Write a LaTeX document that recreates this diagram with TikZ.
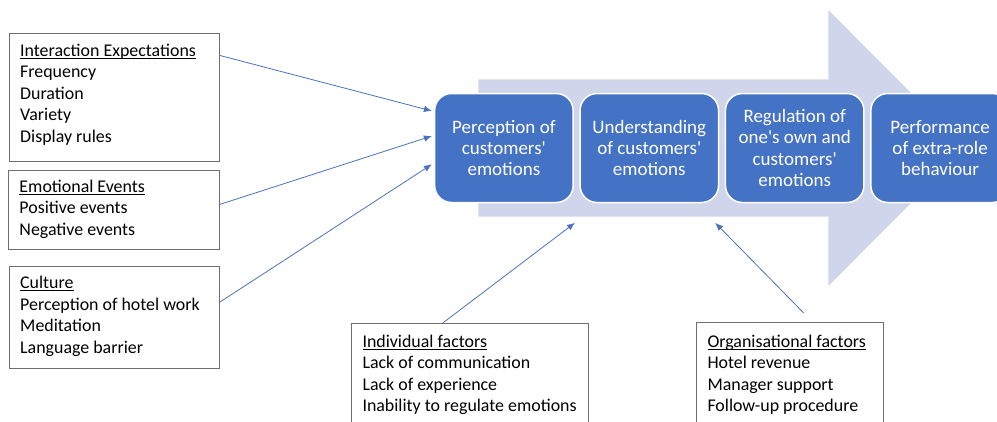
\documentclass[tikz,border=0pt]{standalone}
\usepackage{fontspec}
\setmainfont{Carlito}
\usetikzlibrary{arrows.meta,calc}
\definecolor{boxblue}{HTML}{4472C4}
\definecolor{arrowbg}{HTML}{CFD5EA}
\definecolor{linkblue}{HTML}{4A72C0}
\definecolor{framegray}{HTML}{6E6E6E}
\newcommand\ulx[1]{\setbox0\hbox{#1}\rlap{\rule[-2.4pt]{\wd0}{0.9pt}}\box0}
\newcommand\aq{\textquotesingle}
\begin{document}
\begin{tikzpicture}[x=1pt,y=-1pt,
  stepbox/.style={draw=white, line width=1.5pt, fill=boxblue, rounded corners=17pt,
    minimum width=138.5pt, minimum height=109pt, inner sep=0pt, text=white,
    align=center, font=\fontsize{19}{21.4}\selectfont},
  factorbox/.style={draw=framegray, line width=1pt, inner sep=0pt},
  factortext/.style={anchor=base west, inner sep=0pt,
    font=\fontsize{17.9}{21.5}\selectfont},
  link/.style={draw=linkblue, line width=0.8pt, -{Latex[length=8pt,width=6.5pt]}}]
\useasboundingbox (0,0) rectangle (997,421);
\clip (0,0) rectangle (997,421);
% big background arrow
\fill[arrowbg] (478.3,79.3) -- (828.3,79.3) -- (828.3,10) -- (966,148)
  -- (828.3,286) -- (828.3,216.7) -- (478.3,216.7) -- cycle;
% step boxes
\node[stepbox] (sA) at (503.9,148) {Perception of\\customers\aq\\emotions};
\node[stepbox] (sB) at (649.3,148) {Understanding\\of customers\aq\\emotions};
\node[stepbox] (sC) at (794.7,148) {Regulation of\\one\aq s own and\\customers\aq\\emotions};
\node[stepbox] (sD) at (940.1,148) {Performance\\of extra-role\\behaviour};
% factor boxes
\node[factorbox, minimum width=210pt, minimum height=128pt] (b1) at (114.5,97.5) {};
\node[factorbox, minimum width=210.5pt, minimum height=79pt] (b2) at (113.75,209.5) {};
\node[factorbox, minimum width=210pt, minimum height=101.5pt] (b3) at (114.5,317.25) {};
\node[factorbox, minimum width=236.8pt, minimum height=117pt] (bind) at (469.9,382) {};
\node[factorbox, minimum width=186.3pt, minimum height=117.3pt] (borg) at (789.85,381.35) {};
% factor texts
\node[factortext] (t1) at (20,56) {\vtop{\hbox{\ulx{Interaction Expectations}}\hbox{Frequency}\hbox{Duration}\hbox{Variety}\hbox{Display rules}}};
\node[factortext] (t2) at (19.3,192) {\vtop{\hbox{\ulx{Emotional Events}}\hbox{Positive events}\hbox{Negative events}}};
\node[factortext] (t3) at (20,288.5) {\vtop{\hbox{\ulx{Culture}}\hbox{Perception of hotel work}\hbox{Meditation}\hbox{Language barrier}}};
\node[factortext] (tind) at (362.3,347) {\vtop{\hbox{\ulx{Individual factors}}\hbox{Lack of communication}\hbox{Lack of experience}\hbox{Inability to regulate emotions}}};
\node[factortext] (torg) at (707.3,347) {\vtop{\hbox{\ulx{Organisational factors}}\hbox{Hotel revenue}\hbox{Manager support}\hbox{Follow-up procedure}}};
% connectors
\draw[link] ($(b1.north east)+(0,22.5)$) -- ($(sA.north west)+(-2,18.2)$);
\draw[link] ($(b2.north east)+(0,35)$) -- ($(sA.west)+(-2,-12)$);
\draw[link] ($(b3.north east)+(0,36)$) -- ($(sA.west)+(-2,16.3)$);
\draw[link] ($(bind.north west)+(91.8,0)$) -- ($(sA.south east)!0.5!(sB.south west)+(-1.6,19.5)$);
\draw[link] ($(borg.north west)+(107.3,-9.4)$) -- ($(sB.south east)!0.5!(sC.south west)+(-6.8,19.5)$);
\end{tikzpicture}
\end{document}
